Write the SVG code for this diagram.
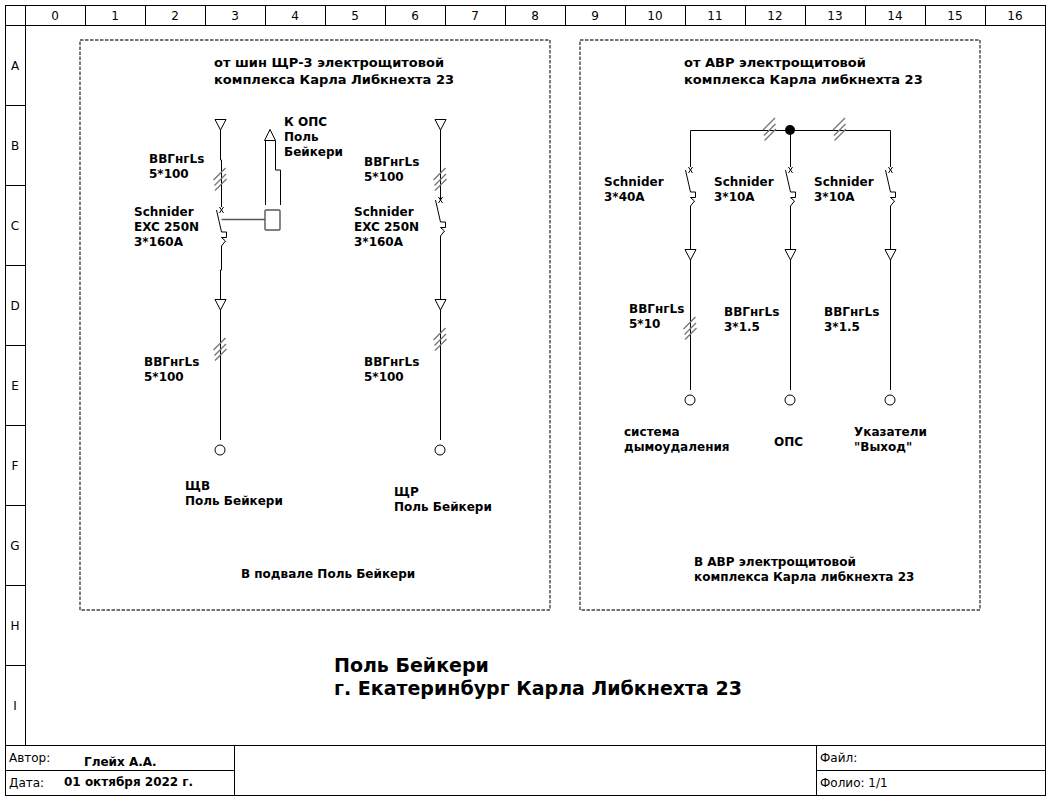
<svg xmlns="http://www.w3.org/2000/svg" width="1050" height="800" viewBox="0 0 1050 800">
<style>
text{font-family:"DejaVu Sans",sans-serif;fill:#000}
.g{font-size:12px;text-anchor:middle}
.b{font-size:12px;font-weight:bold}
.h{font-size:13px;font-weight:bold}
.t{font-size:19px;font-weight:bold}
.n{font-size:12px}
.fr{fill:none;stroke:#000;stroke-width:1}
.w{fill:none;stroke:#000;stroke-width:1}
.lk{fill:none;stroke:#555;stroke-width:1.400}
.sl{fill:none;stroke:#777;stroke-width:1.400}
.dash{fill:none;stroke:#444;stroke-width:1.400;stroke-dasharray:3.500 1.500}
.sym{fill:#fff;stroke:#000;stroke-width:1}
.rel{fill:#fff;stroke:#555;stroke-width:1.400}
</style>
<defs>
<g id="down"><path class="sym" d="M-5.500-5.500H5.500L0 5Z"/></g>
<g id="up"><path class="sym" d="M-5.500 5.500H5.500L0-5.500Z"/></g>
<g id="slash"><path class="sl" d="M-7 0L5-12M-6 5.500L5.500-6M-5.500 10.500L6-1"/></g>
<g id="brk"><path class="w" d="M-2-3L2 3M2-3L-2 3M-5 0L0 22H5V27.500H0L4 31L0 36V37"/></g>
<circle id="end" class="sym" r="5"/>
</defs>
<rect width="1050" height="800" fill="#fff"/>
<g id="frame">
<rect class="fr" x="5.500" y="5.500" width="1040" height="790"/>
<path class="fr" d="M5.500 25.500H1045.500M25.500 5.500V745.500M5.500 745.500H1045.500M5.500 770.500H234.500M816.500 770.500H1045.500M234.500 745.500V795.500M816.500 745.500V795.500M85.500 5.500V25.500M145.500 5.500V25.500M205.500 5.500V25.500M265.500 5.500V25.500M325.500 5.500V25.500M385.500 5.500V25.500M445.500 5.500V25.500M505.500 5.500V25.500M565.500 5.500V25.500M625.500 5.500V25.500M685.500 5.500V25.500M745.500 5.500V25.500M805.500 5.500V25.500M865.500 5.500V25.500M925.500 5.500V25.500M985.500 5.500V25.500M5.500 105.500H25.500M5.500 185.500H25.500M5.500 265.500H25.500M5.500 345.500H25.500M5.500 425.500H25.500M5.500 505.500H25.500M5.500 585.500H25.500M5.500 665.500H25.500"/>
<text class="g" x="55" y="20">0</text><text class="g" x="115" y="20">1</text><text class="g" x="175" y="20">2</text><text class="g" x="235" y="20">3</text><text class="g" x="295" y="20">4</text><text class="g" x="355" y="20">5</text><text class="g" x="415" y="20">6</text><text class="g" x="475" y="20">7</text><text class="g" x="535" y="20">8</text><text class="g" x="595" y="20">9</text><text class="g" x="655" y="20">10</text><text class="g" x="715" y="20">11</text><text class="g" x="775" y="20">12</text><text class="g" x="835" y="20">13</text><text class="g" x="895" y="20">14</text><text class="g" x="955" y="20">15</text><text class="g" x="1015" y="20">16</text>
<text class="g" x="15" y="70">A</text><text class="g" x="15" y="150">B</text><text class="g" x="15" y="230">C</text><text class="g" x="15" y="310">D</text><text class="g" x="15" y="390">E</text><text class="g" x="15" y="470">F</text><text class="g" x="15" y="550">G</text><text class="g" x="15" y="630">H</text><text class="g" x="15" y="710">I</text>
<text class="n" x="9" y="762">Автор:</text>
<text class="n" x="9" y="787">Дата:</text>
<text class="n" x="820" y="762">Файл:</text>
<text class="n" x="820" y="787">Фолио: 1/1</text>
<text class="b" x="84" y="766">Глейх А.А.</text>
<text class="b" x="64" y="786">01 октября 2022 г.</text>
</g>
<g id="panel-left">
<rect class="dash" x="80" y="40" width="470" height="570"/>
<text class="h" x="214" y="67">от шин ЩР-3 электрощитовой</text>
<text class="h" x="214" y="84">комплекса Карла Либкнехта 23</text>
<text class="b" x="241" y="578">В подвале Поль Бейкери</text>
</g>
<g id="panel-right">
<rect class="dash" x="580" y="40" width="400" height="570"/>
<text class="h" x="684" y="67">от АВР электрощитовой</text>
<text class="h" x="684" y="84">комплекса Карла либкнехта 23</text>
<text class="b" x="694" y="566">В АВР электрощитовой</text>
<text class="b" x="694" y="581">комплекса Карла либкнехта 23</text>
</g>
<g id="title">
<text class="t" x="334" y="672">Поль Бейкери</text>
<text class="t" x="334" y="695">г. Екатеринбург Карла Либкнехта 23</text>
</g>
<g id="connectors">
<path class="w" d="M220.500 130V160H221.500V207M221.500 247V270H220.500V300M220.500 310V440"/>
<path class="lk" d="M221.500 219.500H265"/>
<path class="w" d="M265.500 141V205M280.500 205V170H275.500V141"/>
<path class="w" d="M440.500 130V200M440.500 237V300M440.500 310V440"/>
<path class="w" d="M690.500 167V130.500H890.500V167M790.500 130.500V167M690.500 207V250M790.500 207V250M890.500 207V250M690.500 260V390M790.500 260V390M890.500 260V390"/>
<use href="#slash" x="220.500" y="180"/>
<use href="#slash" x="220.500" y="350"/>
<use href="#slash" x="440.500" y="180"/>
<use href="#slash" x="440.500" y="340"/>
<use href="#slash" x="770" y="130"/>
<use href="#slash" x="840" y="130"/>
<use href="#slash" x="690.500" y="329"/>
</g>
<g id="q1"><use href="#brk" x="221.500" y="210"/><text class="b" x="134" y="216">Schnider</text><text class="b" x="134" y="231">EXC 250N</text><text class="b" x="134" y="246">3*160A</text></g>
<g id="q2"><use href="#brk" x="440.500" y="200"/><text class="b" x="354" y="216">Schnider</text><text class="b" x="354" y="231">EXC 250N</text><text class="b" x="354" y="246">3*160A</text></g>
<g id="ops-relay"><rect class="rel" x="265" y="210" width="15" height="20" rx="1"/></g>
<g id="t1"><use href="#down" x="220.500" y="125"/></g>
<g id="t2"><use href="#down" x="220.500" y="305"/></g>
<g id="t3"><use href="#down" x="440.500" y="125"/></g>
<g id="t4"><use href="#down" x="440.500" y="305"/></g>
<g id="t5"><use href="#up" x="270" y="135"/><text class="b" x="284" y="126">К ОПС</text><text class="b" x="284" y="141">Поль</text><text class="b" x="284" y="156">Бейкери</text></g>
<g id="e1"><use href="#end" x="220" y="450"/><text class="b" x="185" y="490">ЩВ</text><text class="b" x="185" y="505">Поль Бейкери</text></g>
<g id="e2"><use href="#end" x="440" y="450"/><text class="b" x="394" y="496">ЩР</text><text class="b" x="394" y="511">Поль Бейкери</text></g>
<g id="cable-labels"><text class="b" x="149" y="163">ВВГнгLs</text><text class="b" x="149" y="178">5*100</text><text class="b" x="364" y="166">ВВГнгLs</text><text class="b" x="364" y="181">5*100</text><text class="b" x="144" y="366">ВВГнгLs</text><text class="b" x="144" y="381">5*100</text><text class="b" x="364" y="366">ВВГнгLs</text><text class="b" x="364" y="381">5*100</text></g>
<g id="junction"><circle cx="790" cy="130" r="5"/></g>
<g id="q3"><use href="#brk" x="690.500" y="170"/><use href="#down" x="690.500" y="255"/><text class="b" x="604" y="186">Schnider</text><text class="b" x="604" y="201">3*40A</text></g>
<g id="q4"><use href="#brk" x="790.500" y="170"/><use href="#down" x="790.500" y="255"/><text class="b" x="714" y="186">Schnider</text><text class="b" x="714" y="201">3*10A</text></g>
<g id="q5"><use href="#brk" x="890.500" y="170"/><use href="#down" x="890.500" y="255"/><text class="b" x="814" y="186">Schnider</text><text class="b" x="814" y="201">3*10A</text></g>
<g id="e3"><use href="#end" x="690" y="400"/><text class="b" x="629" y="313">ВВГнгLs</text><text class="b" x="629" y="328">5*10</text><text class="b" x="624" y="436">система</text><text class="b" x="624" y="451">дымоудаления</text></g>
<g id="e4"><use href="#end" x="790" y="400"/><text class="b" x="724" y="316">ВВГнгLs</text><text class="b" x="724" y="331">3*1.5</text><text class="b" x="774" y="446">ОПС</text></g>
<g id="e5"><use href="#end" x="890" y="400"/><text class="b" x="824" y="316">ВВГнгLs</text><text class="b" x="824" y="331">3*1.5</text><text class="b" x="854" y="436">Указатели</text><text class="b" x="854" y="451">"Выход"</text></g>
</svg>
